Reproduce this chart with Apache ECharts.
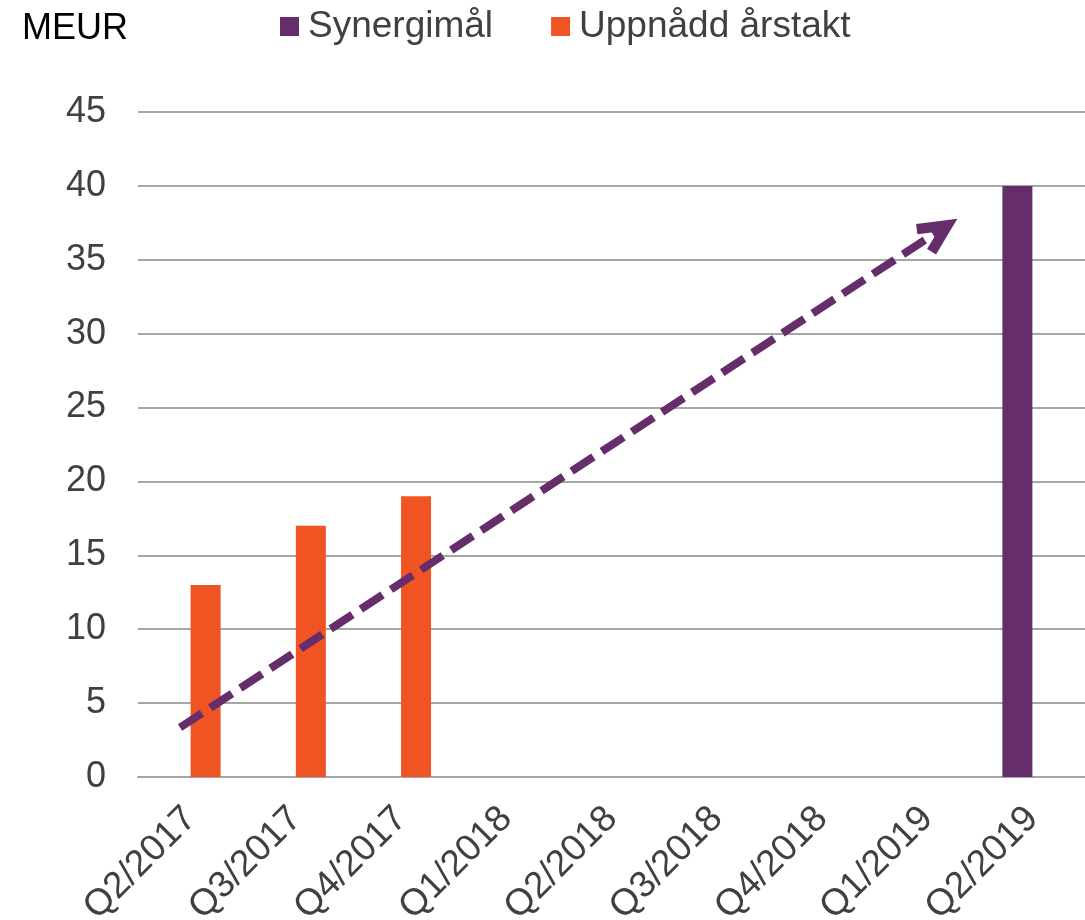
<!DOCTYPE html>
<html>
<head>
<meta charset="utf-8">
<script src="https://cdn.jsdelivr.net/npm/echarts@6/dist/echarts.min.js"></script>
<style>
  html, body { margin: 0; padding: 0; background: #fff; }
  #main { width: 1085px; height: 920px; }
</style>
</head>
<body>
<div id="main"></div>
<script>
var quarters = ['Q2/2017', 'Q3/2017', 'Q4/2017', 'Q1/2018', 'Q2/2018', 'Q3/2018', 'Q4/2018', 'Q1/2019', 'Q2/2019'];
var synergyTarget = [null, null, null, null, null, null, null, null, 40];
var achievedRate = [13, 17, 19, null, null, null, null, null, null];
// trend arrow, in (category position, MEUR)
var trendStart = [0.40, 3.35];
var trendEnd = [7.62, 37.0];

var purple = '#662D6B';
var orange = '#F05423';
var font = "'Liberation Sans', Arial, sans-serif";

var chart = echarts.init(document.getElementById('main'), null, { renderer: 'canvas' });

var option = {
  backgroundColor: '#fff',
  animation: false,
  title: {
    text: 'MEUR',
    left: 22,
    top: 11,
    padding: 0,
    textStyle: { fontFamily: font, fontSize: 36, fontWeight: 'normal', color: '#000' }
  },
  legend: {
    data: ['Synergimål', 'Uppnådd årstakt'],
    left: 280,
    top: 8,
    padding: 0,
    itemWidth: 19,
    itemHeight: 19,
    itemGap: 58,
    icon: 'rect',
    textStyle: { fontFamily: font, fontSize: 37, color: '#404040', padding: [0, 0, 0, 4] }
  },
  grid: {
    left: 138,
    right: 0,
    top: 112,
    bottom: 143,
    outerBoundsMode: 'none'
  },
  xAxis: [{
    type: 'category',
    data: quarters,
    axisLine: { lineStyle: { color: '#A6A6A6', width: 2 } },
    axisTick: { length: 10, lineStyle: { color: '#A6A6A6', width: 2 } },
    axisLabel: {
      interval: 0,
      rotate: 45,
      margin: 36,
      fontFamily: font,
      fontSize: 37,
      color: '#404040'
    }
  }, {
    type: 'value',
    min: 0,
    max: 9,
    show: false
  }],
  yAxis: {
    type: 'value',
    min: 0,
    max: 45,
    interval: 5,
    axisLine: { show: false },
    axisTick: { show: false },
    axisLabel: { margin: 32, fontFamily: font, fontSize: 36, color: '#404040' },
    splitLine: { lineStyle: { color: '#A6A6A6', width: 2 } }
  },
  series: [{
    name: 'Synergimål',
    type: 'bar',
    data: synergyTarget,
    barWidth: 30,
    barGap: '0%',
    itemStyle: { color: purple }
  }, {
    name: 'Uppnådd årstakt',
    type: 'bar',
    data: achievedRate,
    barWidth: 30,
    itemStyle: { color: orange }
  }, {
    name: 'trend',
    type: 'line',
    xAxisIndex: 1,
    data: [],
    z: 5,
    silent: true,
    markLine: {
      silent: true,
      animation: false,
      symbol: ['none', 'path://M20,0 L37.5,36 L28.5,40.4 L20,22.8 L11.5,40.4 L2.5,36 Z'],
      symbolSize: 42,
      symbolKeepAspect: true,
      label: { show: false },
      lineStyle: { color: purple, width: 8, type: [26, 10], opacity: 1 },
      itemStyle: { color: purple },
      emphasis: { disabled: true },
      data: [[{ coord: trendStart }, { coord: trendEnd }]]
    }
  }]
};

chart.setOption(option);
</script>
</body>
</html>
